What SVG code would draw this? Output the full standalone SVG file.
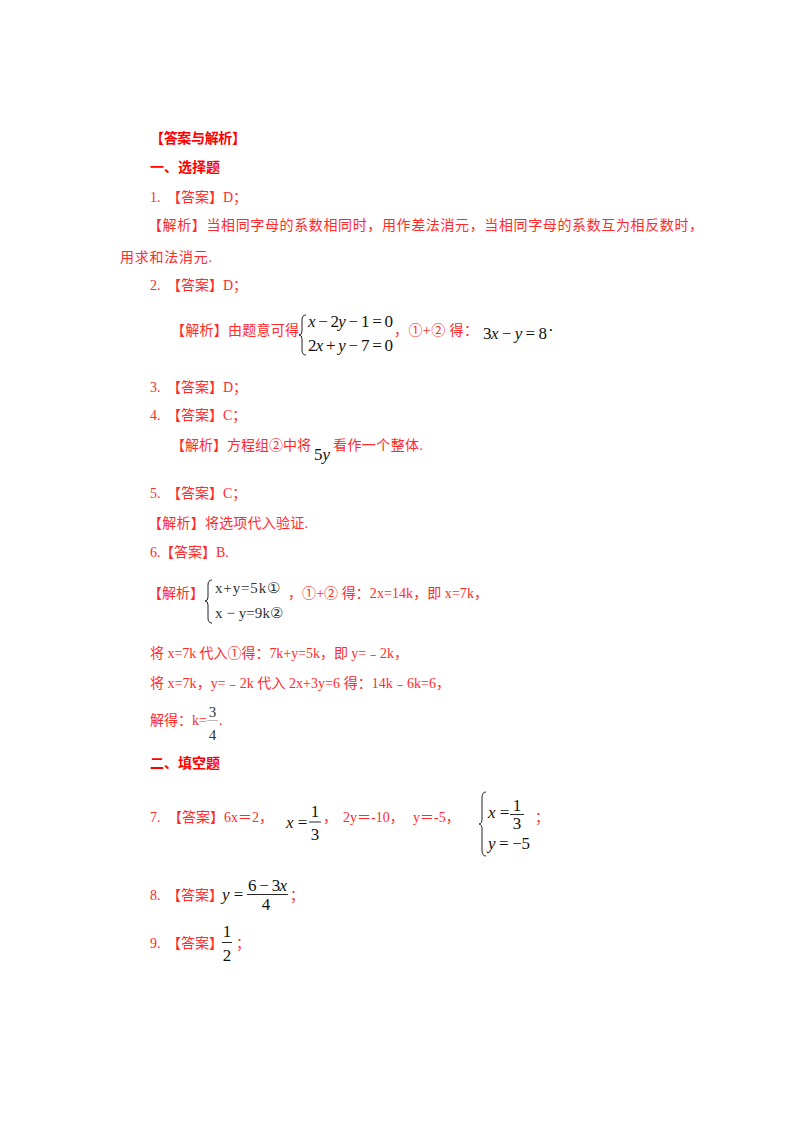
<svg xmlns="http://www.w3.org/2000/svg" width="800" height="1132" viewBox="0 0 800 1132">
<style>
.h{font-family:"Noto Sans CJK SC","Liberation Sans",sans-serif;font-weight:bold;font-size:14px;fill:#ff0000}
.r{font-family:"Liberation Serif","Noto Sans CJK SC",serif;font-size:14px;fill:#ff2a2a}
.m{font-family:"Liberation Serif","Times New Roman","DejaVu Serif",serif;font-size:17px;fill:#111}
.i{font-style:italic}
.g{font-family:"Liberation Serif","DejaVu Serif",serif;font-size:15px;fill:#333}
.br{fill:none;stroke:#222;stroke-width:1}
.bar{stroke:#111;stroke-width:0.9}
</style>
<rect width="800" height="1132" fill="#fff"/>

<g id="title">
<text class="h" x="150" y="143" textLength="96">【答案与解析】</text>
<text class="h" x="150" y="172" textLength="70">一、选择题</text>
</g>

<g id="q1">
<text class="r" x="150" y="202">1.</text>
<text class="r" x="167" y="202">【答案】D；</text>
<text class="r" x="148" y="230" textLength="555" lengthAdjust="spacing">【解析】当相同字母的系数相同时，用作差法消元，当相同字母的系数互为相反数时，</text>
<text class="r" x="120" y="262" textLength="92">用求和法消元.</text>
</g>

<g id="q2">
<text class="r" x="150" y="290">2.</text>
<text class="r" x="167" y="290">【答案】D；</text>
<text class="r" x="171" y="335" textLength="128">【解析】由题意可得</text>
<path class="br" d="M306,315 Q302,315 302,320 L302,331 Q302,335 299,335 Q302,335 302,339 L302,350 Q302,355 306,355"/>
<text class="m" x="308" y="327" textLength="85"><tspan class="i">x</tspan> − 2<tspan class="i">y</tspan> − 1 = 0</text>
<text class="m" x="308" y="351" textLength="85">2<tspan class="i">x</tspan> + <tspan class="i">y</tspan> − 7 = 0</text>
<text class="r" x="394" y="335" textLength="84">，①+② 得：</text>
<text class="m" x="483" y="339" textLength="64">3<tspan class="i">x</tspan> − <tspan class="i">y</tspan> = 8</text>
<text class="m" x="548" y="336" font-size="12">·</text>
</g>

<g id="q3">
<text class="r" x="150" y="392">3.</text>
<text class="r" x="167" y="392">【答案】D；</text>
</g>

<g id="q4">
<text class="r" x="150" y="420">4.</text>
<text class="r" x="167" y="420">【答案】C；</text>
<text class="r" x="171" y="450" textLength="140">【解析】方程组②中将</text>
<text class="m" x="314" y="460" font-size="19">5<tspan class="i">y</tspan></text>
<text class="r" x="333" y="450" textLength="90">看作一个整体.</text>
</g>

<g id="q5">
<text class="r" x="150" y="498">5.</text>
<text class="r" x="167" y="498">【答案】C；</text>
<text class="r" x="148" y="528" textLength="160">【解析】将选项代入验证.</text>
</g>

<g id="q6">
<text class="r" x="150" y="557">6.</text>
<text class="r" x="160" y="557">【答案】B.</text>
<text class="r" x="148" y="598" textLength="56">【解析】</text>
<path class="br" d="M212,580 Q208,580 208,585 L208,597 Q208,601 205,601 Q208,601 208,605 L208,618 Q208,623 212,623"/>
<text class="g" x="215" y="593" textLength="65">x+y=5k①</text>
<text class="g" x="215" y="618" textLength="68">x − y=9k②</text>
<text class="r" x="288" y="598" textLength="200">，①+② 得：2x=14k，即 x=7k，</text>
<text class="r" x="150" y="658" textLength="258">将 x=7k 代入①得：7k+y=5k，即 y=﹣2k，</text>
<text class="r" x="150" y="688" textLength="300">将 x=7k，y=﹣2k 代入 2x+3y=6 得：14k﹣6k=6，</text>
<text class="r" x="150" y="725" textLength="57">解得：k=</text>
<text class="g" x="212.5" y="717" text-anchor="middle" font-family="Liberation Sans" font-size="14">3</text>
<line x1="207" y1="720.5" x2="218" y2="720.5" stroke="#aaa" stroke-width="0.8"/>
<text class="g" x="212.5" y="740" text-anchor="middle" font-family="Liberation Sans" font-size="14">4</text>
<text class="r" x="219" y="725">.</text>
</g>

<g id="section2">
<text class="h" x="150" y="768" textLength="70">二、填空题</text>
</g>

<g id="q7">
<text class="r" x="150" y="822">7.</text>
<text class="r" x="168" y="822">【答案】6x＝2，</text>
<text class="m" x="286" y="828"><tspan class="i">x</tspan> =</text>
<text class="m" x="315" y="817" text-anchor="middle">1</text>
<line class="bar" x1="309" y1="822" x2="321" y2="822"/>
<text class="m" x="315" y="840" text-anchor="middle">3</text>
<text class="r" x="323" y="822">，</text>
<text class="r" x="343" y="822">2y＝-10，</text>
<text class="r" x="413" y="822">y＝-5，</text>
<path class="br" d="M486,792 Q482,792 482,798 L482,819 Q482,824 479,824 Q482,824 482,829 L482,850 Q482,856 486,856"/>
<text class="m" x="488" y="818"><tspan class="i">x</tspan> =</text>
<text class="m" x="517" y="811" text-anchor="middle">1</text>
<line class="bar" x1="510" y1="814.5" x2="524" y2="814.5"/>
<text class="m" x="517" y="829" text-anchor="middle">3</text>
<text class="m" x="488" y="849" textLength="42"><tspan class="i">y</tspan> = −5</text>
<text class="r" x="535" y="822">；</text>
</g>

<g id="q8">
<text class="r" x="150" y="900">8.</text>
<text class="r" x="167" y="900">【答案】</text>
<text class="m" x="222" y="900"><tspan class="i">y</tspan> =</text>
<text class="m" x="248" y="891" textLength="39">6 − 3<tspan class="i">x</tspan></text>
<line class="bar" x1="247" y1="894.5" x2="288" y2="894.5"/>
<text class="m" x="266" y="910" text-anchor="middle">4</text>
<text class="r" x="290" y="900">；</text>
</g>

<g id="q9">
<text class="r" x="150" y="948">9.</text>
<text class="r" x="167" y="948">【答案】</text>
<text class="m" x="227" y="937" text-anchor="middle">1</text>
<line class="bar" x1="222" y1="942.5" x2="232" y2="942.5"/>
<text class="m" x="227" y="961" text-anchor="middle">2</text>
<text class="r" x="236" y="948">；</text>
</g>
</svg>
